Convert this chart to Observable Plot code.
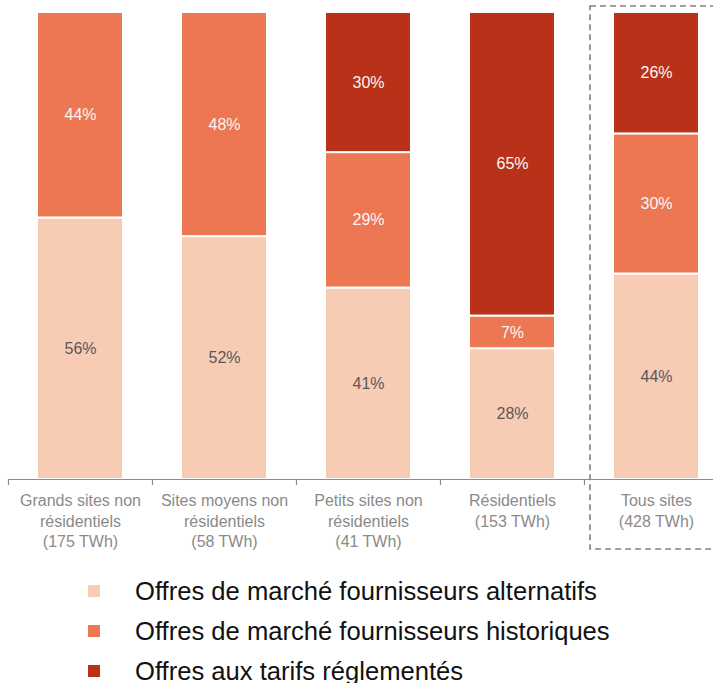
<!DOCTYPE html>
<html><head><meta charset="utf-8">
<script src="https://cdn.jsdelivr.net/npm/d3@7"></script>
<script src="https://cdn.jsdelivr.net/npm/@observablehq/plot@0.6"></script>
<style>
body{margin:0;background:#fff;font-family:"Liberation Sans",Arial,sans-serif;}
#legend{padding-top:11px;}
.row{display:flex;align-items:center;height:40px;}
.sw{width:12px;height:12px;margin-left:88px;margin-right:35px;flex:none;}
.lab{font-size:25.6px;color:#111;white-space:nowrap;}
</style></head><body><div id="chart"></div><div id="legend"></div>
<script>
const categories = [
  "Grands sites non\nrésidentiels\n(175 TWh)",
  "Sites moyens non\nrésidentiels\n(58 TWh)",
  "Petits sites non\nrésidentiels\n(41 TWh)",
  "Résidentiels\n(153 TWh)",
  "Tous sites\n(428 TWh)"
];
const series = [
  "Offres de marché fournisseurs alternatifs",
  "Offres de marché fournisseurs historiques",
  "Offres aux tarifs réglementés"
];
const colors = ["#F8CBB5", "#EC7752", "#B83118"];
const alternatifs = [56, 52, 41, 28, 44];
const historiques = [44, 48, 29, 7, 30];
const reglementes = [0, 0, 30, 65, 26];
const highlighted = "Tous sites\n(428 TWh)";

const values = [alternatifs, historiques, reglementes];
const data = [];
categories.forEach((c, i) => {
  series.forEach((s, j) => {
    if (values[j][i] > 0) data.push({category: c, series: s, value: values[j][i]});
  });
});

const stackOpts = {x: "category", y: "value", z: "series", order: series};

const chart = Plot.plot({
  width: 713,
  height: 560,
  marginLeft: 0,
  marginRight: 0,
  marginTop: 12,
  marginBottom: 81,
  style: {fontFamily: "'Liberation Sans', Arial, sans-serif", background: "#fff"},
  x: {domain: categories, range: [8, 728], paddingInner: 0.4, paddingOuter: 0.2, axis: null},
  y: {domain: [0, 100], axis: null},
  color: {domain: series, range: colors},
  marks: [
    Plot.barY(data, Plot.stackY({...stackOpts, fill: "series", stroke: "white", strokeWidth: 2})),
    Plot.text(data, Plot.stackY({...stackOpts,
      text: d => d.series === series[0] ? d.value + "%" : null,
      fill: "#595959", fontSize: 16})),
    Plot.text(data, Plot.stackY({...stackOpts,
      text: d => d.series !== series[0] ? d.value + "%" : null,
      fill: "#f7f7f7", fontSize: 16})),
    Plot.ruleY([0], {stroke: "#8c8c8c", strokeWidth: 1.2, insetLeft: 8}),
    Plot.ruleX(categories, {x: d => d, y1: 0, y2: -1.3, dx: -72, stroke: "#8c8c8c", strokeWidth: 1.2}),
    Plot.barY([highlighted], {x: d => d, y1: 101.3, y2: -15, fill: "none", stroke: "#808080",
      strokeWidth: 1.6, strokeDasharray: "6,4", insetLeft: -23, insetRight: -40}),
    Plot.axisX({tickSize: 0, tickPadding: 12, fontSize: 16, fill: "#8a8a8a", lineHeight: 1.28, label: null})
  ]
});
document.getElementById("chart").appendChild(chart);

const legend = document.getElementById("legend");
series.forEach((s, j) => {
  const row = document.createElement("div");
  row.className = "row";
  const sw = document.createElement("div");
  sw.className = "sw";
  sw.style.background = colors[j];
  const lab = document.createElement("span");
  lab.className = "lab";
  lab.textContent = s;
  row.appendChild(sw);
  row.appendChild(lab);
  legend.appendChild(row);
});
</script></body></html>
